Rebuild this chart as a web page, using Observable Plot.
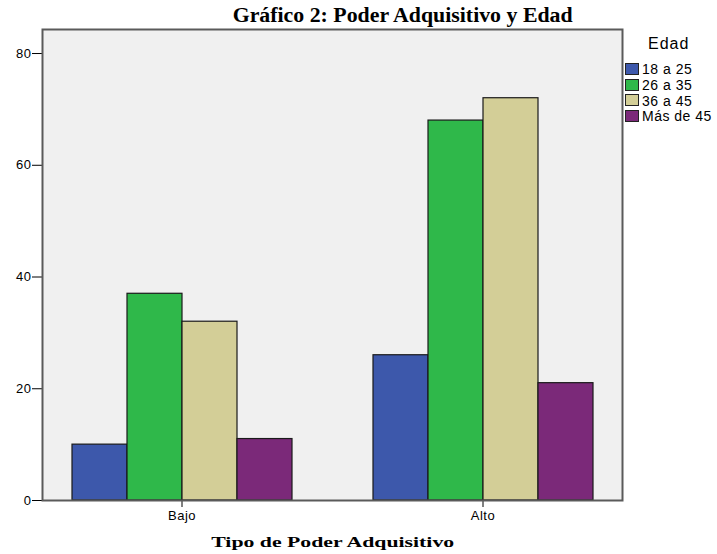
<!DOCTYPE html>
<html>
<head>
<meta charset="utf-8">
<script src="https://cdn.jsdelivr.net/npm/d3@7"></script>
<script src="https://cdn.jsdelivr.net/npm/@observablehq/plot@0.6"></script>
<style>
  html, body { margin: 0; padding: 0; background: #fff; }
  #wrap { position: relative; width: 717px; height: 554px; overflow: hidden; }
  #chart { position: absolute; left: 0; top: 0; width: 717px; height: 554px; }
  .ttl { position: absolute; font-family: "Liberation Serif", "Times New Roman", serif; font-weight: bold; color: #000; white-space: nowrap; transform-origin: center center; line-height: 1; }
  #legend { position: absolute; left: 625px; top: 35px; font-family: "Liberation Sans", Arial, sans-serif; color: #000; }
  #legend .head { font-size: 16px; letter-spacing: 1px; margin-left: 23px; height: 26px; line-height: 18px; }
  #legend .row { display: flex; align-items: center; height: 15.8px; font-size: 14px; letter-spacing: 0.5px; }
  #legend .sw { width: 14px; height: 12px; border: 1px solid #222; margin-right: 3px; box-sizing: border-box; flex: none; }
</style>
</head>
<body>
<div id="wrap">
  <div id="chart"></div>
  <span class="ttl" id="title" style="font-size:20px;">Gráfico 2: Poder Adquisitivo y Edad</span>
  <span class="ttl" id="xlabel" style="font-size:15px;">Tipo de Poder Adquisitivo</span>
  <div id="legend"></div>
</div>
<script>
const categories = ["Bajo", "Alto"];
const series = ["18 a 25", "26 a 35", "36 a 45", "Más de 45"];
const colors = ["#3d58ab", "#2fb84a", "#d3ce97", "#7b2979"];
const valuesBajo = [10, 37, 32, 11];
const valuesAlto = [26, 68, 72, 21];
const yTicks = [0, 20, 40, 60, 80];
const legendTitle = "Edad";

const rows = [];
series.forEach((s, i) => {
  rows.push({cat: "Bajo", serie: s, value: valuesBajo[i]});
  rows.push({cat: "Alto", serie: s, value: valuesAlto[i]});
});

const plot = Plot.plot({
  width: 717,
  height: 554,
  marginLeft: 42,
  marginRight: 94,
  marginTop: 29,
  marginBottom: 54,
  style: {fontFamily: "Liberation Sans, Arial, sans-serif", fontSize: "13px", color: "#000", background: "transparent", letterSpacing: "0.5px"},
  fx: {domain: categories, paddingInner: 0.073, paddingOuter: 0, label: null},
  x: {domain: series, paddingInner: 0, paddingOuter: 0.5, axis: null},
  y: {domain: [0, 84.3], label: null},
  color: {domain: series, range: colors},
  marks: [
    Plot.frame({facet: "super", fill: "#f0f0f0", stroke: "none"}),
    Plot.barY(rows, {fx: "cat", x: "serie", y: "value", fill: "serie", stroke: "#1a1a1a", strokeWidth: 1.2, inset: 0}),
    Plot.axisY({ticks: yTicks, tickSize: 10, tickPadding: 1, label: null, fontSize: 13}),
    Plot.axisFx({anchor: "bottom", tickSize: 7, tickPadding: 3, label: null, fontSize: 13}),
    Plot.frame({facet: "super", stroke: "#5a5a5a", strokeWidth: 2})
  ]
});
document.getElementById("chart").appendChild(plot);

// stretch the serif titles to the reference widths
function placeTitle(id, cx, cy, targetW) {
  const el = document.getElementById(id);
  const r = el.getBoundingClientRect();
  el.style.left = (cx - r.width / 2) + "px";
  el.style.top = (cy - r.height / 2) + "px";
  el.style.transform = "scaleX(" + (targetW / r.width) + ")";
}
placeTitle("title", 403, 15, 340);
placeTitle("xlabel", 333, 542, 243);

const legend = document.getElementById("legend");
const head = document.createElement("div");
head.className = "head";
head.textContent = legendTitle;
legend.appendChild(head);
series.forEach((s, i) => {
  const r = document.createElement("div");
  r.className = "row";
  const sw = document.createElement("div");
  sw.className = "sw";
  sw.style.background = colors[i];
  const t = document.createElement("span");
  t.textContent = s;
  r.appendChild(sw);
  r.appendChild(t);
  legend.appendChild(r);
});
</script>
</body>
</html>
